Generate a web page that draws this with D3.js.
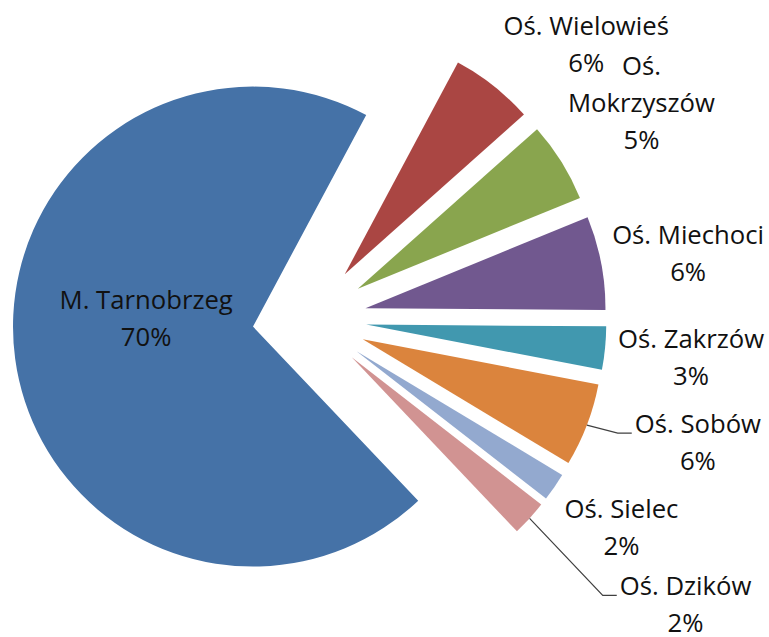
<!DOCTYPE html>
<html>
<head>
<meta charset="utf-8">
<script src="https://cdn.jsdelivr.net/npm/d3@7"></script>
<style>
    html, body { margin: 0; padding: 0; background: #fff; }
    svg text { font-family: "Open Sans", Lato, sans-serif; fill: #111; }
</style>
</head>
<body>
<svg id="chart" width="769" height="637"></svg>
<script>

// data
const categories = ['M. Tarnobrzeg', 'Oś. Wielowieś', 'Oś. Mokrzyszów', 'Oś. Miechoci',
    'Oś. Zakrzów', 'Oś. Sobów', 'Oś. Sielec', 'Oś. Dzików'];
const shares = [69.9, 5.6, 5.4, 6.3, 2.9, 5.6, 1.9, 2.4];
const sliceColors = ['#4572A7', '#AA4643', '#89A54E', '#71588F', '#4198AF', '#DB843D', '#93A9CF', '#D19392'];

// label placement, relative to the middle of each slice's outer arc
const labelOffsets = [[131, -50], [93, -51], [80, -87], [87, -19], [86, 0], [111, 8], [67, 31], [156, 77]];
const labelWrapped = [false, false, true, false, false, false, false, false];
const labelLeader = [false, false, false, false, false, true, false, true];


class ExplodedPie {

    constructor(svg, cx, cy, radius, explode) {
        this.svg = svg;
        this.cx = cx;
        this.cy = cy;
        this.radius = radius;
        this.explode = explode;
        this.lineHeight = 37;
        this.fontSize = 25.7;
    }

    shift(d, dist) {
        const a = (d.startAngle + d.endAngle) / 2;
        return [Math.sin(a) * dist, -Math.cos(a) * dist];
    }

    render(items) {
        const pie = d3.pie()
            .sort(null)
            .value(d => d.value)
            .startAngle(136.5 * Math.PI / 180)
            .endAngle(136.5 * Math.PI / 180 + 2 * Math.PI);

        const arc = d3.arc().innerRadius(0).outerRadius(this.radius);
        const arcs = pie(items);
        const fmt = d3.format('.0%');

        const root = this.svg.append('g')
            .attr('transform', `translate(${this.cx}, ${this.cy})`);

        root.selectAll('path.slice')
            .data(arcs)
            .enter()
            .append('path')
            .attr('class', 'slice')
            .attr('d', arc)
            .attr('transform', d => `translate(${this.shift(d, this.explode)})`)
            .style('fill', d => d.data.color);

        const labels = root.selectAll('g.label')
            .data(arcs)
            .enter()
            .append('g')
            .attr('class', 'label')
            .attr('transform', (d, i) => {
                const [ox, oy] = this.shift(d, this.explode + this.radius);
                return `translate(${ox + labelOffsets[i][0]}, ${oy + labelOffsets[i][1]})`;
            });

        const self = this;
        labels.each(function(d, i) {
            const g = d3.select(this);
            const name = d.data.name;
            let lines = [name];
            if (labelWrapped[i]) {
                const k = name.indexOf(' ');
                lines = [name.slice(0, k), name.slice(k + 1)];
            }
            lines.push(fmt(d.data.value / 100));
            lines.forEach((t, j) => {
                g.append('text')
                    .attr('x', 0)
                    .attr('y', j * self.lineHeight)
                    .attr('text-anchor', 'middle')
                    .attr('font-size', self.fontSize)
                    .text(t);
            });
        });

        // leader lines for the labels that sit away from their slice
        labels.filter((d, i) => labelLeader[i]).each(function(d) {
            const i = arcs.indexOf(d);
            const first = d3.select(this).select('text').node();
            const halfW = first.getComputedTextLength() / 2;
            const [ox, oy] = self.shift(d, self.explode + self.radius);
            const lx = ox + labelOffsets[i][0] - halfW;
            const ly = oy + labelOffsets[i][1];
            root.insert('polyline', 'g.label')
                .attr('points', [[ox, oy], [lx - 17, ly], [lx - 3, ly]].map(p => p.join(',')).join(' '))
                .attr('fill', 'none')
                .attr('stroke', '#404040')
                .attr('stroke-width', 1.2);
        });
    }
}

const items = categories.map((name, i) => ({name: name, value: shares[i], color: sliceColors[i]}));
const chart = new ExplodedPie(d3.select('#chart'), 309.5, 319, 240, 57);
chart.render(items);

</script>
</body>
</html>
